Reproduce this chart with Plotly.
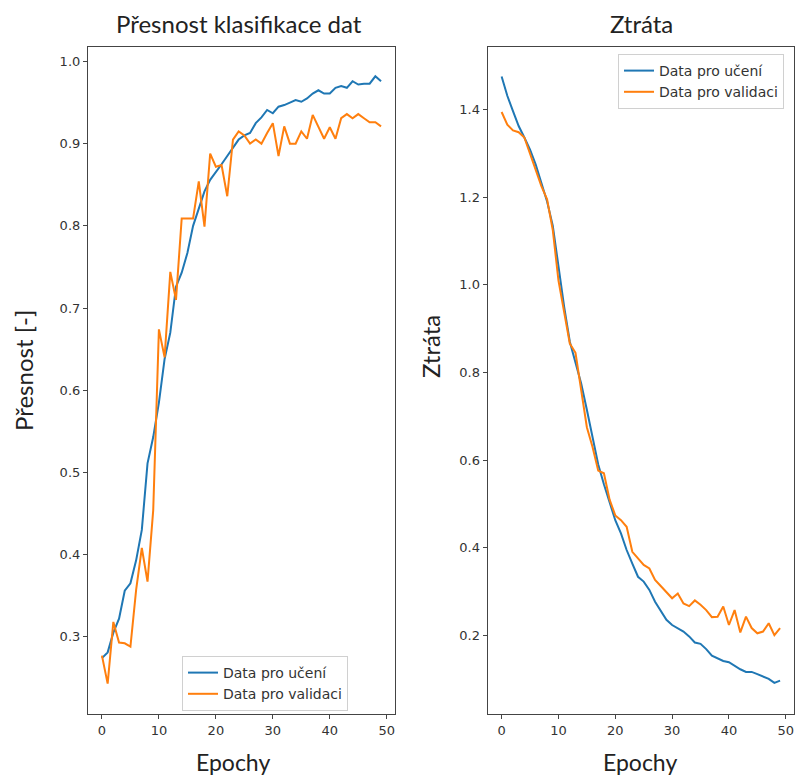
import plotly.graph_objects as go
from plotly.subplots import make_subplots

# Training history: 50 epochs
epochs = list(range(50))

train_acc = [0.274, 0.281, 0.305, 0.322, 0.356, 0.365, 0.393, 0.430, 0.511, 0.543,
             0.585, 0.638, 0.670, 0.726, 0.743, 0.767, 0.800, 0.822, 0.842, 0.856,
             0.865, 0.875, 0.885, 0.895, 0.905, 0.910, 0.913, 0.925, 0.932, 0.941,
             0.937, 0.945, 0.947, 0.950, 0.953, 0.951, 0.955, 0.961, 0.965, 0.961,
             0.961, 0.968, 0.970, 0.968, 0.976, 0.972, 0.973, 0.973, 0.982, 0.976]
val_acc = [0.277, 0.243, 0.318, 0.293, 0.292, 0.288, 0.357, 0.408, 0.367, 0.454,
           0.674, 0.640, 0.744, 0.710, 0.809, 0.809, 0.809, 0.854, 0.799, 0.888,
           0.872, 0.874, 0.836, 0.905, 0.915, 0.910, 0.900, 0.905, 0.900, 0.913,
           0.925, 0.885, 0.921, 0.900, 0.900, 0.915, 0.906, 0.935, 0.921, 0.906,
           0.920, 0.906, 0.931, 0.936, 0.931, 0.936, 0.931, 0.926, 0.926, 0.921]

train_loss = [1.475, 1.431, 1.396, 1.362, 1.336, 1.308, 1.274, 1.234, 1.190, 1.135,
              1.040, 0.950, 0.870, 0.825, 0.775, 0.715, 0.650, 0.590, 0.545, 0.505,
              0.463, 0.433, 0.395, 0.364, 0.334, 0.323, 0.304, 0.277, 0.258, 0.236,
              0.224, 0.217, 0.209, 0.198, 0.184, 0.181, 0.169, 0.154, 0.148, 0.142,
              0.139, 0.130, 0.123, 0.117, 0.117, 0.112, 0.107, 0.101, 0.092, 0.097]
val_loss = [1.394, 1.365, 1.352, 1.348, 1.336, 1.300, 1.262, 1.225, 1.195, 1.125,
            1.010, 0.940, 0.866, 0.845, 0.760, 0.675, 0.630, 0.576, 0.570, 0.510,
            0.474, 0.463, 0.448, 0.391, 0.376, 0.361, 0.353, 0.327, 0.313, 0.300,
            0.285, 0.296, 0.273, 0.267, 0.280, 0.270, 0.258, 0.242, 0.243, 0.266,
            0.224, 0.258, 0.207, 0.243, 0.217, 0.205, 0.209, 0.228, 0.201, 0.217]

series_names = ["Data pro učení", "Data pro validaci"]
titles = ["Přesnost klasifikace dat", "Ztráta"]
x_label = "Epochy"
y_labels = ["Přesnost [-]", "Ztráta"]

x_ticks = [0, 10, 20, 30, 40, 50]
acc_ticks = [0.3, 0.4, 0.5, 0.6, 0.7, 0.8, 0.9, 1.0]
acc_tick_text = ["0.3", "0.4", "0.5", "0.6", "0.7", "0.8", "0.9", "1.0"]
loss_ticks = [0.2, 0.4, 0.6, 0.8, 1.0, 1.2, 1.4]
loss_tick_text = ["0.2", "0.4", "0.6", "0.8", "1.0", "1.2", "1.4"]

BLUE = "#1f77b4"
ORANGE = "#ff7f0e"
TEXT = "#222222"
TICK_FONT = dict(family="DejaVu Sans", size=13, color="#333333")
LABEL_FONT = "Lato"

W, H = 795, 776

fig = make_subplots(rows=1, cols=2)

fig.add_trace(go.Scatter(x=epochs, y=train_acc, mode="lines", name=series_names[0],
                         line=dict(color=BLUE, width=2), legend="legend"), row=1, col=1)
fig.add_trace(go.Scatter(x=epochs, y=val_acc, mode="lines", name=series_names[1],
                         line=dict(color=ORANGE, width=2), legend="legend"), row=1, col=1)
fig.add_trace(go.Scatter(x=epochs, y=train_loss, mode="lines", name=series_names[0],
                         line=dict(color=BLUE, width=2), legend="legend2"), row=1, col=2)
fig.add_trace(go.Scatter(x=epochs, y=val_loss, mode="lines", name=series_names[1],
                         line=dict(color=ORANGE, width=2), legend="legend2"), row=1, col=2)

axis_common = dict(showgrid=False, zeroline=False, showline=True, mirror=True,
                   linecolor="#444444", linewidth=1.2, ticks="outside", ticklen=4,
                   tickwidth=1, tickcolor="#444444", tickfont=TICK_FONT)

y_top = 1 - 46.7 / H
y_bot = 1 - 714 / H

fig.update_xaxes(axis_common, range=[-2.45, 51.45], tickvals=x_ticks)
fig.update_layout(
    xaxis=dict(domain=[88 / W, 395 / W]),
    xaxis2=dict(domain=[487.7 / W, 794 / W]),
    yaxis=dict(axis_common, domain=[y_bot, y_top], range=[0.206, 1.018],
               tickvals=acc_ticks, ticktext=acc_tick_text),
    yaxis2=dict(axis_common, domain=[y_bot, y_top], range=[0.021, 1.543],
                tickvals=loss_ticks, ticktext=loss_tick_text),
)

legend_common = dict(bgcolor="rgba(255,255,255,0.9)", bordercolor="#d0d0d0", borderwidth=1,
                     font=dict(family="DejaVu Sans", size=14, color="#333333"),
                     xanchor="left", yanchor="top", tracegroupgap=0, itemwidth=30)

fig.update_layout(
    width=W, height=H,
    margin=dict(l=0, r=0, t=0, b=0),
    paper_bgcolor="white", plot_bgcolor="white",
    showlegend=True,
    legend=dict(legend_common, x=182 / W, y=1 - 656 / H),
    legend2=dict(legend_common, x=618 / W, y=1 - 54 / H),
)

annotations = [
    dict(text=titles[0], x=238.5 / W, y=1 - 23 / H, font=dict(family=LABEL_FONT, size=24, color=TEXT)),
    dict(text=titles[1], x=641.5 / W, y=1 - 23 / H, font=dict(family=LABEL_FONT, size=24, color=TEXT)),
    dict(text=x_label, x=233 / W, y=1 - 762 / H, font=dict(family=LABEL_FONT, size=23, color=TEXT)),
    dict(text=x_label, x=640 / W, y=1 - 762 / H, font=dict(family=LABEL_FONT, size=23, color=TEXT)),
    dict(text=y_labels[0], x=23 / W, y=1 - 371 / H, textangle=-90,
         font=dict(family=LABEL_FONT, size=24, color=TEXT)),
    dict(text=y_labels[1], x=430 / W, y=1 - 347 / H, textangle=-90,
         font=dict(family=LABEL_FONT, size=24, color=TEXT)),
]
for a in annotations:
    a.update(xref="paper", yref="paper", showarrow=False, xanchor="center", yanchor="middle")
fig.update_layout(annotations=annotations)

fig.write_html("out.html")
